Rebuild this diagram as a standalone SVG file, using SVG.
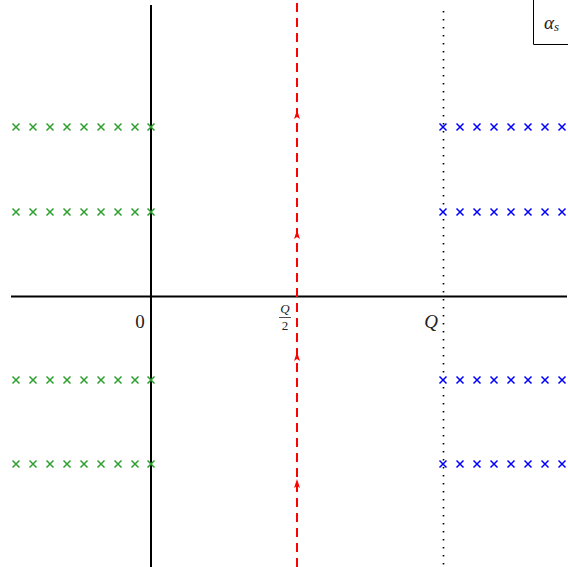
<svg xmlns="http://www.w3.org/2000/svg" width="568" height="567" viewBox="0 0 568 567">
<style>
.axis{stroke:#000;stroke-width:2;fill:none}
.gx{stroke:#2ca02c;stroke-width:1.5}
.bx{stroke:#0000ff;stroke-width:1.5}
.red{stroke:#ff0000;stroke-width:2;stroke-dasharray:9 6;fill:none}
.dot{stroke:#000;stroke-width:1.6;stroke-dasharray:1.6 6.4;fill:none}
.arr{fill:#ff0000;stroke:none}
.lbl{font-family:"Liberation Serif","DejaVu Serif",serif;fill:#222}
</style>
<defs>
<g id="cx"><path d="M-3.5,-3.5 L3.5,3.5 M-3.5,3.5 L3.5,-3.5"/></g>
<path id="ah" d="M0,-6 L3,3 L0,1 L-3,3 Z"/>
</defs>
<rect width="568" height="567" fill="#fff"/>
<g id="axes">
<line class="axis" x1="151" y1="5" x2="151" y2="567"/>
<line class="axis" x1="11" y1="296.5" x2="567" y2="296.5"/>
</g>
<g id="connectors">
<line class="red" x1="297" y1="3" x2="297" y2="567"/>
<line class="dot" x1="443.5" y1="11" x2="443.5" y2="567"/>
<use href="#ah" class="arr" x="297" y="116"/>
<use href="#ah" class="arr" x="297" y="236"/>
<use href="#ah" class="arr" x="297" y="358"/>
<use href="#ah" class="arr" x="297" y="485"/>
</g>
<g id="green-poles" class="gx">
<g id="g1">
<use href="#cx" x="16" y="127"/><use href="#cx" x="33" y="127"/><use href="#cx" x="50" y="127"/><use href="#cx" x="67" y="127"/><use href="#cx" x="84" y="127"/><use href="#cx" x="101" y="127"/><use href="#cx" x="118" y="127"/><use href="#cx" x="135" y="127"/><use href="#cx" x="151" y="127"/>
</g>
<g id="g2">
<use href="#cx" x="16" y="212"/><use href="#cx" x="33" y="212"/><use href="#cx" x="50" y="212"/><use href="#cx" x="67" y="212"/><use href="#cx" x="84" y="212"/><use href="#cx" x="101" y="212"/><use href="#cx" x="118" y="212"/><use href="#cx" x="135" y="212"/><use href="#cx" x="151" y="212"/>
</g>
<g id="g3">
<use href="#cx" x="16" y="380"/><use href="#cx" x="33" y="380"/><use href="#cx" x="50" y="380"/><use href="#cx" x="67" y="380"/><use href="#cx" x="84" y="380"/><use href="#cx" x="101" y="380"/><use href="#cx" x="118" y="380"/><use href="#cx" x="135" y="380"/><use href="#cx" x="151" y="380"/>
</g>
<g id="g4">
<use href="#cx" x="16" y="464"/><use href="#cx" x="33" y="464"/><use href="#cx" x="50" y="464"/><use href="#cx" x="67" y="464"/><use href="#cx" x="84" y="464"/><use href="#cx" x="101" y="464"/><use href="#cx" x="118" y="464"/><use href="#cx" x="135" y="464"/><use href="#cx" x="151" y="464"/>
</g>
</g>
<g id="blue-poles" class="bx">
<g id="b1">
<use href="#cx" x="443" y="127"/><use href="#cx" x="460" y="127"/><use href="#cx" x="477" y="127"/><use href="#cx" x="494" y="127"/><use href="#cx" x="511" y="127"/><use href="#cx" x="528" y="127"/><use href="#cx" x="545" y="127"/><use href="#cx" x="562" y="127"/>
</g>
<g id="b2">
<use href="#cx" x="443" y="212"/><use href="#cx" x="460" y="212"/><use href="#cx" x="477" y="212"/><use href="#cx" x="494" y="212"/><use href="#cx" x="511" y="212"/><use href="#cx" x="528" y="212"/><use href="#cx" x="545" y="212"/><use href="#cx" x="562" y="212"/>
</g>
<g id="b3">
<use href="#cx" x="443" y="380"/><use href="#cx" x="460" y="380"/><use href="#cx" x="477" y="380"/><use href="#cx" x="494" y="380"/><use href="#cx" x="511" y="380"/><use href="#cx" x="528" y="380"/><use href="#cx" x="545" y="380"/><use href="#cx" x="562" y="380"/>
</g>
<g id="b4">
<use href="#cx" x="443" y="464"/><use href="#cx" x="460" y="464"/><use href="#cx" x="477" y="464"/><use href="#cx" x="494" y="464"/><use href="#cx" x="511" y="464"/><use href="#cx" x="528" y="464"/><use href="#cx" x="545" y="464"/><use href="#cx" x="562" y="464"/>
</g>
</g>
<g id="labels">
<text class="lbl" x="140" y="328" text-anchor="middle" style="font-size:19px">0</text>
<text class="lbl" x="285" y="313" text-anchor="middle" style="font-size:13px;font-style:italic">Q</text>
<line x1="279" y1="317.5" x2="291" y2="317.5" stroke="#222" stroke-width="0.8"/>
<text class="lbl" x="285" y="330" text-anchor="middle" style="font-size:13px">2</text>
<text class="lbl" x="431" y="328" text-anchor="middle" style="font-size:19px;font-style:italic">Q</text>
</g>
<g id="legend">
<path d="M533.5,0 V44.5 H568" fill="none" stroke="#000" stroke-width="1"/>
<text class="lbl" x="544" y="29" style="font-size:19px;font-style:italic">α<tspan style="font-size:13px" dy="2">s</tspan></text>
</g>
</svg>
